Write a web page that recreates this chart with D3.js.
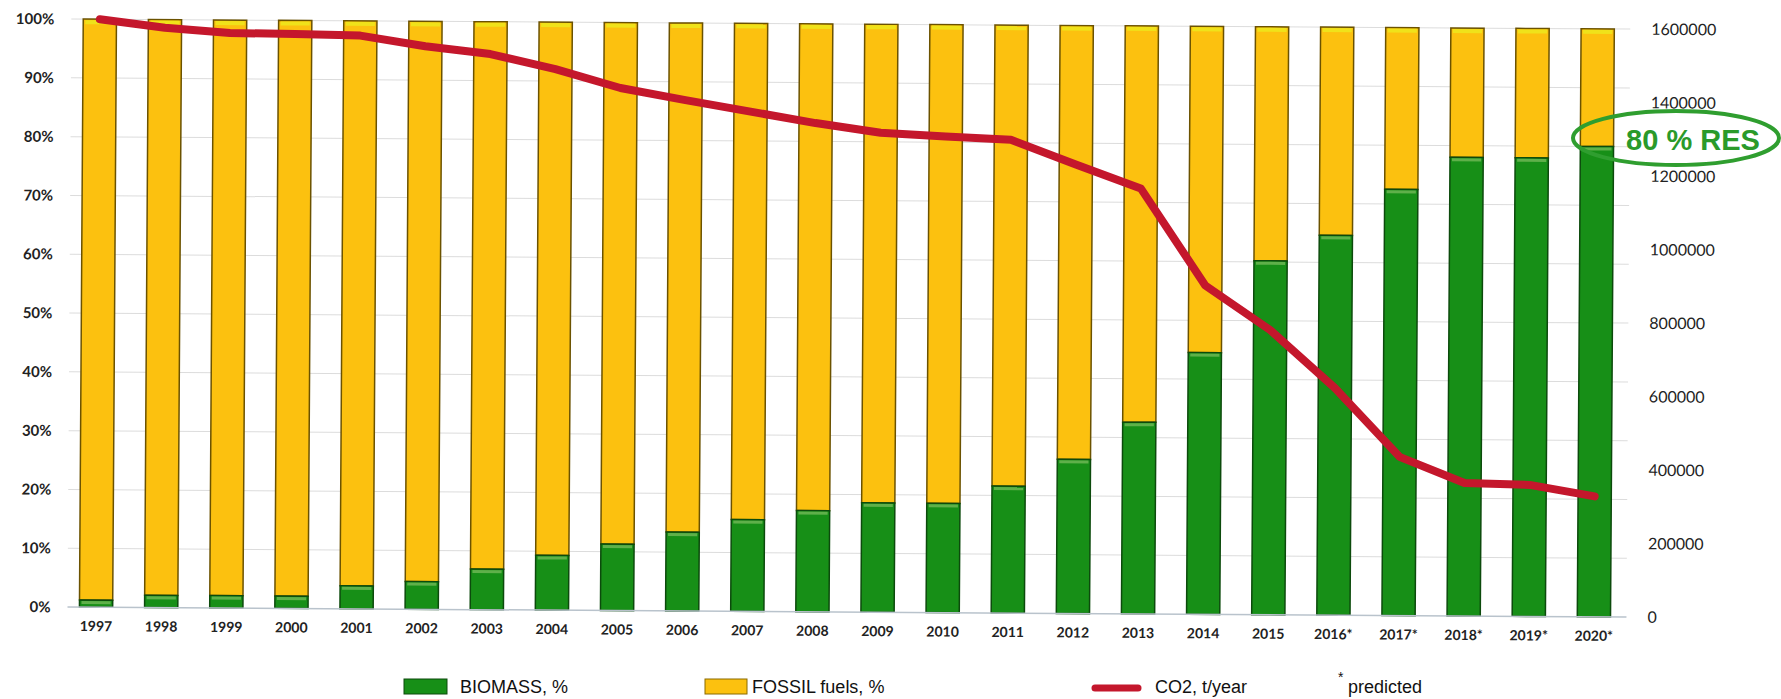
<!DOCTYPE html>
<html lang="en">
<head>
<meta charset="UTF-8">
<title>Biomass vs fossil fuels and CO2</title>
<script src="https://d3js.org/d3.v7.min.js"></script>
<style>
    body { margin: 0; background: #fff; }
    text { font-family: Lato, "Open Sans", sans-serif; fill: #222; }
    .legend text { font-family: "Liberation Sans", Arial, sans-serif; font-size: 18px; fill: #111; }
</style>
</head>
<body>
<div id="chart"></div>
<script>
    // data
    var years = ["1997", "1998", "1999", "2000", "2001", "2002", "2003", "2004", "2005", "2006",
        "2007", "2008", "2009", "2010", "2011", "2012", "2013", "2014", "2015", "2016*",
        "2017*", "2018*", "2019*", "2020*"];
    var biomass = [1.2, 2.1, 2.1, 2.1, 3.9, 4.7, 6.9, 9.3, 11.3, 13.4, 15.6, 17.2, 18.6, 18.6,
        21.6, 26.2, 32.6, 44.5, 60.2, 64.6, 72.5, 78, 78, 80];
    var fossil = [98.8, 97.9, 97.9, 97.9, 96.1, 95.3, 93.1, 90.7, 88.7, 86.6, 84.4, 82.8, 81.4, 81.4,
        78.4, 73.8, 67.4, 55.5, 39.8, 35.4, 27.5, 22, 22, 20];
    var co2 = [1600000, 1578000, 1565000, 1563000, 1560000, 1532000, 1512000, 1472000, 1422000,
        1390000, 1360000, 1330000, 1305000, 1296000, 1288000, 1222000, 1158000, 895000, 775000,
        618000, 432000, 362000, 358000, 328000];
    var pctTicks = [0, 0.1, 0.2, 0.3, 0.4, 0.5, 0.6, 0.7, 0.8, 0.9, 1];
    var co2Ticks = [0, 200000, 400000, 600000, 800000, 1000000, 1200000, 1400000, 1600000];

    var width = 1781, height = 699;
    var plotLeft = 63.5, plotRight = 1626.5, plotTop = 19, plotBottom = 607;
    var tilt = 0.37; // degrees, the scanned chart is turned a little

    var green = "#178f17", yellow = "#fcc10f", red = "#c4172c";

    var svg = d3.select("#chart").append("svg")
        .attr("width", width)
        .attr("height", height);

    var g = svg.append("g")
        .attr("transform", "rotate(" + tilt + "," + plotLeft + "," + plotBottom + ")");

    var x = d3.scaleBand().domain(years).range([plotLeft, plotRight]).paddingInner(0.49).paddingOuter(0.245);
    var yPct = d3.scaleLinear().domain([0, 100]).range([plotBottom, plotTop]);
    var yCo2 = d3.scaleLinear().domain([0, 1600000]).range([plotBottom, plotTop]);

    // gridlines
    g.append("g").selectAll("line")
        .data(pctTicks.slice(1))
        .join("line")
        .attr("x1", plotLeft + 4).attr("x2", plotRight)
        .attr("y1", function (d) { return yPct(d * 100); })
        .attr("y2", function (d) { return yPct(d * 100); })
        .attr("stroke", "#dcdcdc").attr("stroke-width", 1);

    // left axis
    var leftAxis = g.append("g")
        .attr("transform", "translate(" + (plotLeft - 10) + ",0)")
        .call(d3.axisLeft(yPct.copy().domain([0, 1])).tickValues(pctTicks).tickFormat(d3.format(".0%")).tickSize(0));
    leftAxis.select(".domain").remove();
    leftAxis.selectAll("text").style("font-size", "15px").style("font-weight", "bold").attr("fill", "#2b2b2b");

    // right axis
    var rightAxis = g.append("g")
        .attr("transform", "translate(" + (plotRight + 18) + ",0)")
        .call(d3.axisRight(yCo2).tickValues(co2Ticks).tickFormat(d3.format("d")).tickSize(0));
    rightAxis.select(".domain").remove();
    rightAxis.selectAll("text").style("font-size", "16px").attr("fill", "#2b2b2b");

    // bars
    var rows = years.map(function (y, i) { return { year: y, bio: biomass[i], fos: fossil[i] }; });

    var bars = g.append("g").selectAll("g")
        .data(rows)
        .join("g");

    bars.append("rect")
        .attr("x", function (d) { return x(d.year); })
        .attr("width", x.bandwidth())
        .attr("y", function (d) { return yPct(d.bio + d.fos); })
        .attr("height", function (d) { return yPct(d.bio) - yPct(d.bio + d.fos); })
        .attr("fill", yellow)
        .attr("stroke", "#6b5200").attr("stroke-width", 1.5);

    bars.append("rect")
        .attr("x", function (d) { return x(d.year) + 2; })
        .attr("width", x.bandwidth() - 4)
        .attr("y", function (d) { return yPct(d.bio + d.fos) + 1; })
        .attr("height", 4)
        .attr("fill", "#f0e21a");

    bars.append("rect")
        .attr("x", function (d) { return x(d.year); })
        .attr("width", x.bandwidth())
        .attr("y", function (d) { return yPct(d.bio); })
        .attr("height", function (d) { return yPct(0) - yPct(d.bio); })
        .attr("fill", green)
        .attr("stroke", "#0c4a0c").attr("stroke-width", 1.5);

    bars.append("rect")
        .attr("x", function (d) { return x(d.year) + 2; })
        .attr("width", x.bandwidth() - 4)
        .attr("y", function (d) { return yPct(d.bio) + 1; })
        .attr("height", 3)
        .attr("fill", "#5fb04a");

    // baseline
    g.append("line")
        .attr("x1", plotLeft + 4).attr("x2", plotRight)
        .attr("y1", yPct(0)).attr("y2", yPct(0))
        .attr("stroke", "#b9c3cc").attr("stroke-width", 1.5);

    // x labels
    var xAxis = g.append("g")
        .attr("transform", "translate(0," + (plotBottom + 4) + ")")
        .call(d3.axisBottom(x).tickSize(0).tickPadding(10));
    xAxis.select(".domain").remove();
    xAxis.selectAll("text").style("font-size", "14px").style("font-weight", "bold").attr("fill", "#2b2b2b");

    // CO2 line
    var line = d3.line()
        .x(function (d, i) { return x(years[i]) + x.bandwidth() / 2; })
        .y(function (d) { return yCo2(d); });

    g.append("path")
        .datum(co2)
        .attr("d", line)
        .attr("fill", "none")
        .attr("stroke", red)
        .attr("stroke-width", 8)
        .attr("stroke-linejoin", "round")
        .attr("stroke-linecap", "round");

    // 80 % RES note
    svg.append("ellipse")
        .attr("cx", 1676).attr("cy", 138)
        .attr("rx", 103).attr("ry", 27)
        .attr("fill", "none")
        .attr("stroke", "#2f9e2f").attr("stroke-width", 4);

    svg.append("text")
        .attr("x", 1693).attr("y", 142)
        .attr("text-anchor", "middle")
        .attr("dominant-baseline", "middle")
        .style("font-family", "'Liberation Sans', Arial, sans-serif")
        .style("font-size", "29px").style("font-weight", "bold")
        .style("fill", "#2a9a2a")
        .text("80 % RES");

    // legend
    var legend = svg.append("g").attr("class", "legend");

    legend.append("rect").attr("x", 404).attr("y", 679).attr("width", 43).attr("height", 15)
        .attr("fill", green).attr("stroke", "#0c4a0c");
    legend.append("text").attr("x", 460).attr("y", 693).text("BIOMASS, %");

    legend.append("rect").attr("x", 705).attr("y", 679).attr("width", 42).attr("height", 15)
        .attr("fill", yellow).attr("stroke", "#8a6a00");
    legend.append("text").attr("x", 752).attr("y", 693).text("FOSSIL fuels, %");

    legend.append("line").attr("x1", 1095).attr("x2", 1138).attr("y1", 688).attr("y2", 688)
        .attr("stroke", red).attr("stroke-width", 7).attr("stroke-linecap", "round");
    legend.append("text").attr("x", 1155).attr("y", 693).text("CO2, t/year");

    legend.append("text").attr("x", 1338).attr("y", 682).style("font-size", "14px").text("*");
    legend.append("text").attr("x", 1348).attr("y", 693).text("predicted");
</script>
</body>
</html>
